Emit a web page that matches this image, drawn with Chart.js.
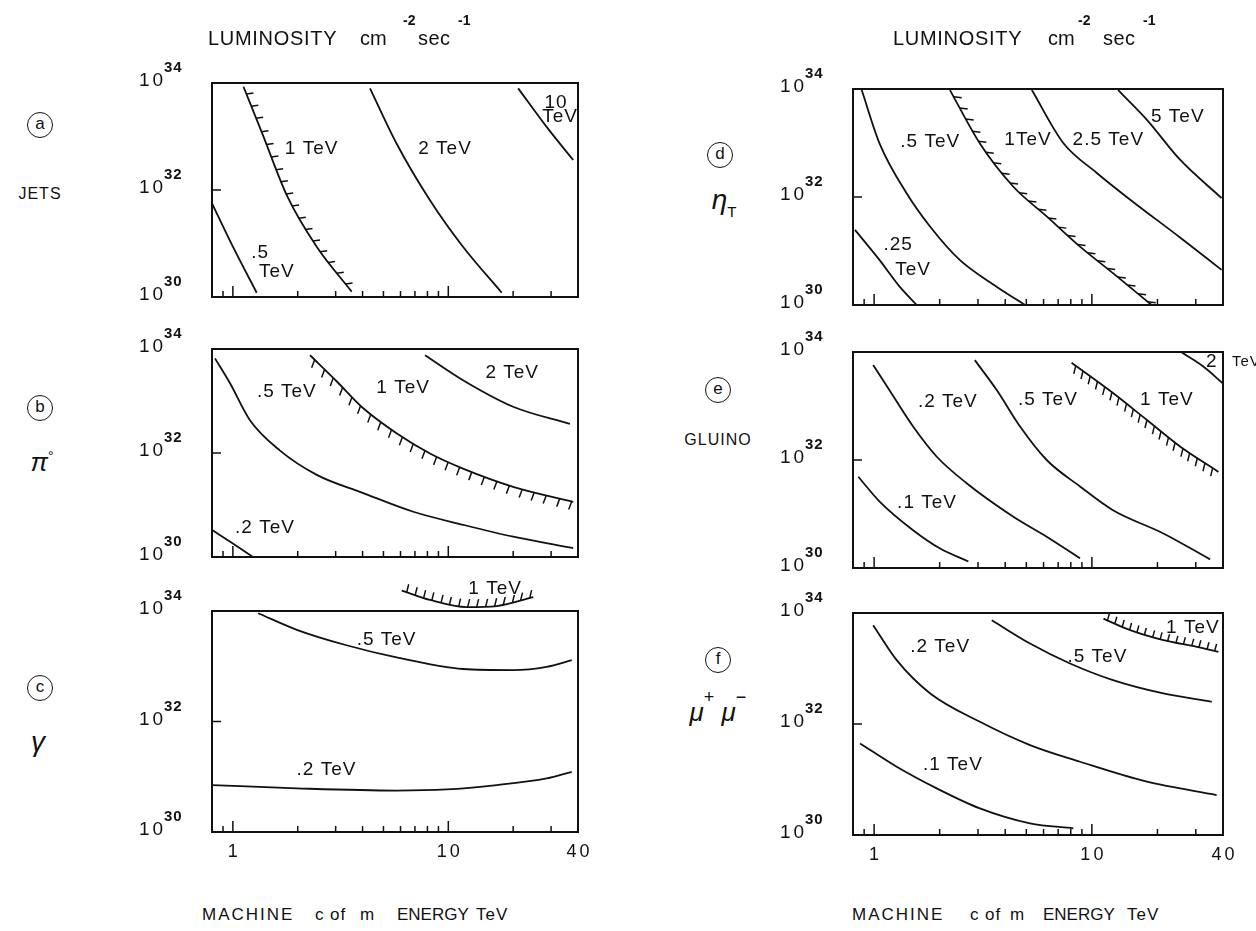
<!DOCTYPE html>
<html><head><meta charset="utf-8">
<script src="https://cdn.jsdelivr.net/npm/chart.js@4.4.1/dist/chart.umd.min.js"></script>
<style>
body{margin:0;background:#fff;}
#wrap{position:relative;width:1256px;height:931px;overflow:hidden;background:#fff;font-family:"Liberation Sans",Arial,sans-serif;color:#111;}
canvas{position:absolute;}
.t{position:absolute;white-space:nowrap;line-height:1;}
.c{position:absolute;white-space:nowrap;line-height:1;transform:translate(-50%,-50%);}
.circ{position:absolute;border:1.6px solid #111;border-radius:50%;transform:translate(-50%,-50%);width:24px;height:24px;text-align:center;line-height:22px;font-size:17px;}
</style></head><body><div id="wrap"></div>
<script>
// ---------- axis values ----------
const energyTicks = [0.8,0.9,1,2,3,4,5,6,7,8,9,10,20,30];
const energyMajor = [1,10];
const energyLabels = ['1','10','40'];
const energyLabelValues = [1,10,40];
const lumExponents = [30,32,34];   // 10^30 ... 10^34 cm^-2 sec^-1

// ---------- (a) JETS : energy (TeV), log10 luminosity ----------
const jets05_E=[0.8,1.0,1.29],                 jets05_L=[31.75,30.94,30.08];
const jets1_E=[1.12,1.38,1.78,2.45,3.56],     jets1_L=[33.93,33.02,31.90,30.94,30.10];
const jets2_E=[4.33,5.75,8.22,11.7,17.7],     jets2_L=[33.90,32.87,31.81,30.94,30.08];
const jets10_E=[21.1,28.6,38],                jets10_L=[33.90,33.18,32.56];
const jetsLabels=[['1 TeV',2.32,32.78],['2 TeV',9.66,32.78],['10',31.6,33.63],['TeV',33.0,33.36],['.5',1.34,30.82],['TeV',1.60,30.47]];

// ---------- (b) pi0 ----------
const pi02_E=[0.8,1.0,1.24],                   pi02_L=[30.52,30.26,30.0];
const pi05_E=[0.826,0.97,1.20,1.65,2.45,4.03,6.88,11.7,20.0,38];
const pi05_L=[33.82,33.34,32.63,32.05,31.58,31.23,30.87,30.62,30.39,30.17];
const pi1_E=[2.28,3.03,4.03,5.75,8.22,11.7,20.0,38];
const pi1_L=[33.88,33.38,32.86,32.38,31.99,31.70,31.35,31.06];
const pi2_E=[7.80,11.7,20.0,36.7],             pi2_L=[33.88,33.40,32.89,32.56];
const piLabels=[['.5 TeV',1.78,33.17],['1 TeV',6.17,33.25],['2 TeV',19.8,33.54],['.2 TeV',1.41,30.56]];

// ---------- (c) gamma ----------
const gam05_E=[1.31,1.98,3.37,5.75,11.7,20.0,28.6,37.4];
const gam05_L=[33.96,33.66,33.38,33.16,32.95,32.93,32.99,33.11];
const gam02_E=[0.8,1.98,5.75,9.82,16.8,28.6,37.4];
const gam02_L=[30.85,30.79,30.75,30.77,30.85,30.97,31.09];
const gam1_E=[6.08,8.22,12.2,16.8,24.8],       gam1_L=[34.37,34.20,34.07,34.09,34.25];
const gamLabels=[['.5 TeV',5.17,33.48],['.2 TeV',2.72,31.12],['1 TeV',16.5,34.41]];

// ---------- (d) eta_T ----------
const eta025_E=[0.817,1.06,1.31,1.57],         eta025_L=[31.39,30.83,30.34,30.0];
const eta05_E=[0.877,1.06,1.41,1.81,2.48,3.65,4.94];
const eta05_L=[33.98,32.99,32.07,31.45,30.83,30.34,30.0];
const eta1_E=[2.23,3.06,4.36,6.20,8.82,12.5,18.8];
const eta1_L=[33.98,32.99,32.19,31.64,31.08,30.59,30.0];
const eta25_E=[5.30,7.39,10.5,15.0,25.4,39.4], eta25_L=[33.98,33.0,32.45,31.95,31.25,30.65];
const eta5_E=[13.2,17.9,25.4,39.4],           eta5_L=[33.98,33.43,32.69,31.98];
const etaLabels=[['.5 TeV',1.81,33.02],['1TeV',5.09,33.06],['2.5 TeV',11.9,33.06],['5 TeV',24.8,33.48],['.25',1.29,31.11],['TeV',1.51,30.65]];

// ---------- (e) GLUINO ----------
const glu01_E=[0.846,1.06,1.51,2.01,2.71],     glu01_L=[31.69,31.23,30.70,30.36,30.12];
const glu02_E=[0.99,1.23,1.51,1.94,2.66,4.36,6.20,8.82];
const glu02_L=[33.76,33.17,32.62,32.06,31.57,30.95,30.58,30.18];
const glu05_E=[2.90,3.65,4.68,6.20,8.82,12.5,21.3,34.9];
const glu05_L=[33.85,33.30,32.62,32.0,31.51,31.07,30.64,30.16];
const glu1_E=[8.07,12.5,17.9,25.4,38.1],       glu1_L=[33.80,33.24,32.74,32.25,31.78];
const glu2_E=[25.9,32.5,39.9],                glu2_L=[33.99,33.73,33.42];
const gluLabels=[['.2 TeV',2.18,33.07],['.5 TeV',6.28,33.11],['1 TeV',22.1,33.11],['.1 TeV',1.75,31.20],['2',35.5,33.82]];
const gluSmallLabels=[['TeV',44,33.82]];

// ---------- (f) mu+ mu- ----------
const mu01_E=[0.862,1.27,1.94,3.06,5.20,8.22], mu01_L=[31.65,31.23,30.84,30.48,30.21,30.12];
const mu02_E=[0.99,1.27,1.81,3.06,5.20,8.82,17.9,37.4];
const mu02_L=[33.78,33.15,32.55,32.04,31.62,31.32,30.96,30.72];
const mu05_E=[3.47,5.20,7.94,12.5,21.3,35.5],  mu05_L=[33.87,33.45,33.09,32.79,32.55,32.40];
const mu1_E=[11.3,15.0,21.3,30.3,38.1],        mu1_L=[33.90,33.69,33.51,33.39,33.30];
const muLabels=[['.2 TeV',2.01,33.39],['.5 TeV',10.6,33.21],['1 TeV',29.1,33.73],['.1 TeV',2.30,31.26]];

// ---------- helpers ----------
const INK='#111';
function series(xs, ls, extra){
  return Object.assign({
    data: xs.map((x,i)=>({x:x, y:Math.pow(10, ls[i])})),
    borderColor:INK, borderWidth:1.8, pointRadius:0, fill:false,
    cubicInterpolationMode:'monotone'
  }, extra||{});
}

const wrap=document.getElementById('wrap');

const panelPlugin={
  id:'panelDeco',
  afterDatasetsDraw(chart){
    const ctx=chart.ctx, xs=chart.scales.x, ys=chart.scales.y, ca=chart.chartArea;
    const cfg=chart.options.plugins.panelDeco;
    ctx.save();
    // hatching along curves
    chart.data.datasets.forEach((ds,i)=>{
      if(!ds.hatch) return;
      const pts=chart.getDatasetMeta(i).data;
      const samp=[];
      for(let j=0;j<pts.length-1;j++){
        const p0=pts[j], p1=pts[j+1];
        const c1x=p0.cp2x!==undefined?p0.cp2x:p0.x, c1y=p0.cp2y!==undefined?p0.cp2y:p0.y;
        const c2x=p1.cp1x!==undefined?p1.cp1x:p1.x, c2y=p1.cp1y!==undefined?p1.cp1y:p1.y;
        for(let k=0;k<40;k++){
          const t=k/40, u=1-t;
          samp.push([u*u*u*p0.x+3*u*u*t*c1x+3*u*t*t*c2x+t*t*t*p1.x,
                     u*u*u*p0.y+3*u*u*t*c1y+3*u*t*t*c2y+t*t*t*p1.y]);
        }
      }
      const last=pts[pts.length-1]; samp.push([last.x,last.y]);
      const h=ds.hatch; let acc=h.step*0.5;
      ctx.strokeStyle=INK; ctx.lineWidth=1.5; ctx.beginPath();
      for(let k=1;k<samp.length;k++){
        const dx=samp[k][0]-samp[k-1][0], dy=samp[k][1]-samp[k-1][1];
        const d=Math.hypot(dx,dy); acc+=d;
        if(acc>=h.step){ acc-=h.step;
          ctx.moveTo(samp[k][0],samp[k][1]); ctx.lineTo(samp[k][0]+h.dx,samp[k][1]+h.dy); }
      }
      ctx.stroke();
    });
    // inward ticks on energy axis
    ctx.strokeStyle=INK; ctx.lineWidth=1.5; ctx.beginPath();
    energyTicks.forEach(v=>{
      const px=xs.getPixelForValue(v);
      if(px<ca.left+1||px>ca.right-1) return;
      const len=energyMajor.includes(v)?11:6;
      ctx.moveTo(px,ca.bottom); ctx.lineTo(px,ca.bottom-len);
    });
    const py32=ys.getPixelForValue(1e32);
    ctx.moveTo(ca.left,py32); ctx.lineTo(ca.left+9,py32);
    ctx.stroke();
    // luminosity labels 10^n
    ctx.fillStyle=INK; ctx.textAlign='left'; ctx.textBaseline='alphabetic';
    lumExponents.forEach(e=>{
      const py=ys.getPixelForValue(Math.pow(10,e));
      ctx.font='19px "Liberation Sans", Arial, sans-serif';
      if('letterSpacing' in ctx) ctx.letterSpacing='3px';
      ctx.fillText('10',ca.left-73,py+3);
      ctx.font='bold 15px "Liberation Sans", Arial, sans-serif';
      if('letterSpacing' in ctx) ctx.letterSpacing='1px';
      ctx.fillText(String(e),ca.left-48,py-11);
    });
    // energy labels
    if(cfg.energyLabels){
      ctx.font='18px "Liberation Sans", Arial, sans-serif';
      if('letterSpacing' in ctx) ctx.letterSpacing='3px';
      ctx.textAlign='center'; ctx.textBaseline='top';
      energyLabelValues.forEach((v,i)=>{
        ctx.fillText(energyLabels[i], xs.getPixelForValue(v)+1.5, ca.bottom+11);
      });
    }
    // curve labels
    ctx.textAlign='center'; ctx.textBaseline='middle';
    ctx.font='19px "Liberation Sans", Arial, sans-serif';
    if('letterSpacing' in ctx) ctx.letterSpacing='1px';
    (cfg.labels||[]).forEach(l=>{
      ctx.fillText(l[0], xs.getPixelForValue(l[1]), ys.getPixelForValue(Math.pow(10,l[2])));
    });
    ctx.textAlign='left';
    ctx.font='15px "Liberation Sans", Arial, sans-serif';
    (cfg.smallLabels||[]).forEach(l=>{
      ctx.fillText(l[0], xs.getPixelForValue(l[1]), ys.getPixelForValue(Math.pow(10,l[2])));
    });
    ctx.restore();
  }
};

function makePanel(p){
  const cv=document.createElement('canvas');
  cv.width=p.w; cv.height=p.h;
  cv.style.left=p.left+'px'; cv.style.top=p.top+'px';
  cv.style.width=p.w+'px'; cv.style.height=p.h+'px';
  wrap.appendChild(cv);
  const edge={display:true,color:INK,width:2};
  const hidden={ticks:{display:false},grid:{display:false,drawTicks:false},border:edge};
  new Chart(cv,{
    type:'line',
    data:{datasets:p.datasets},
    options:{
      responsive:false, animation:false, devicePixelRatio:1,
      layout:{autoPadding:false,padding:p.pad},
      elements:{line:{capBezierPoints:false}},
      plugins:{legend:{display:false},tooltip:{enabled:false},
        panelDeco:{labels:p.labels,smallLabels:p.smallLabels,energyLabels:p.energyLabels}},
      scales:{
        x:Object.assign({type:'logarithmic',min:0.8,max:40,position:'bottom'},hidden),
        y:Object.assign({type:'logarithmic',min:1e30,max:1e34,position:'left'},hidden),
        x2:Object.assign({type:'linear',axis:'x',min:0,max:1,position:'top'},hidden),
        y2:Object.assign({type:'linear',axis:'y',min:0,max:1,position:'right'},hidden)
      }
    },
    plugins:[panelPlugin]
  });
}

const L={left:130,w:480}, R={left:770,w:486};
makePanel({left:L.left,top:40,w:L.w,h:280,pad:{left:82,right:32,top:43,bottom:23},labels:jetsLabels,
  datasets:[series(jets05_E,jets05_L),series(jets1_E,jets1_L,{hatch:{dx:7,dy:-1,step:13.5}}),
            series(jets2_E,jets2_L),series(jets10_E,jets10_L)]});
makePanel({left:L.left,top:306,w:L.w,h:280,pad:{left:82,right:32,top:43,bottom:29},labels:piLabels,
  datasets:[series(pi02_E,pi02_L),series(pi05_E,pi05_L),
            series(pi1_E,pi1_L,{hatch:{dx:-3,dy:8,step:13}}),series(pi2_E,pi2_L)]});
makePanel({left:L.left,top:560,w:L.w,h:310,pad:{left:82,right:32,top:51,bottom:38},labels:gamLabels,energyLabels:true,
  datasets:[series(gam05_E,gam05_L),series(gam02_E,gam02_L),
            series(gam1_E,gam1_L,{clip:false,hatch:{dx:2,dy:-8,step:9}})]});
makePanel({left:R.left,top:46,w:R.w,h:280,pad:{left:83,right:33,top:43,bottom:21},labels:etaLabels,
  datasets:[series(eta025_E,eta025_L),series(eta05_E,eta05_L),
            series(eta1_E,eta1_L,{hatch:{dx:8,dy:1,step:13}}),series(eta25_E,eta25_L),series(eta5_E,eta5_L)]});
makePanel({left:R.left,top:309,w:R.w,h:280,pad:{left:83,right:33,top:43,bottom:21},labels:gluLabels,smallLabels:gluSmallLabels,
  datasets:[series(glu01_E,glu01_L),series(glu02_E,glu02_L),series(glu05_E,glu05_L),
            series(glu1_E,glu1_L,{hatch:{dx:-2,dy:8,step:9}}),series(glu2_E,glu2_L)]});
makePanel({left:R.left,top:570,w:R.w,h:300,pad:{left:83,right:33,top:43,bottom:35},labels:muLabels,energyLabels:true,
  datasets:[series(mu01_E,mu01_L),series(mu02_E,mu02_L),series(mu05_E,mu05_L),
            series(mu1_E,mu1_L,{hatch:{dx:2,dy:-7,step:8}})]});

// ---------- surrounding text ----------
function txt(s,x,baseline,size,extra){
  const d=document.createElement('div'); d.className='t'; d.innerHTML=s;
  d.style.left=x+'px'; d.style.top=(baseline-0.8465*size)+'px'; d.style.fontSize=size+'px';
  if(extra) Object.assign(d.style,extra);
  wrap.appendChild(d);
}
function ctr(s,x,y,size,extra){
  const d=document.createElement('div'); d.className='c'; d.innerHTML=s;
  d.style.left=x+'px'; d.style.top=y+'px'; d.style.fontSize=size+'px';
  if(extra) Object.assign(d.style,extra);
  wrap.appendChild(d);
}
function circ(s,x,y){
  const d=document.createElement('div'); d.className='circ'; d.textContent=s;
  d.style.left=x+'px'; d.style.top=y+'px'; wrap.appendChild(d);
}
// titles
[[208,360,403,418,458],[893,1048,1078,1103,1143]].forEach(p=>{
  txt('LUMINOSITY',p[0],45,20,{letterSpacing:'0.7px'});
  txt('cm',p[1],45,20);
  txt('-2',p[2],25,14,{fontWeight:'bold'});
  txt('sec',p[3],45,20,{letterSpacing:'0.5px'});
  txt('-1',p[4],25,14,{fontWeight:'bold'});
});
[[202,315,330,360,397,476],[852,970,985,1010,1043,1127]].forEach(p=>{
  txt('MACHINE',p[0],920,17,{letterSpacing:'2px'});
  txt('c',p[1],920,17);
  txt('of',p[2],920,17,{letterSpacing:'1px'});
  txt('m',p[3],920,17);
  txt('ENERGY',p[4],920,17);
  txt('TeV',p[5],920,17,{letterSpacing:'1px'});
});
// panel identifiers
circ('a',40,125); ctr('JETS',40,194,16,{letterSpacing:'1px'});
circ('b',40,408); ctr('<i>π</i><span style="font-size:14px;vertical-align:10px">°</span>',42,462,26);
circ('c',40,688); ctr('<i>γ</i>',38,742,28);
circ('d',720,155); ctr('<i>η</i><span style="font-size:15px;vertical-align:-8px">T</span>',724,202,28);
circ('e',718,390); ctr('GLUINO',718,440,16,{letterSpacing:'1px'});
circ('f',718,660); ctr('<i>μ</i><span style="font-size:18px;vertical-align:18px">+</span>&nbsp;<i>μ</i><span style="font-size:18px;vertical-align:18px">−</span>',718,706,26);
</script></body></html>
